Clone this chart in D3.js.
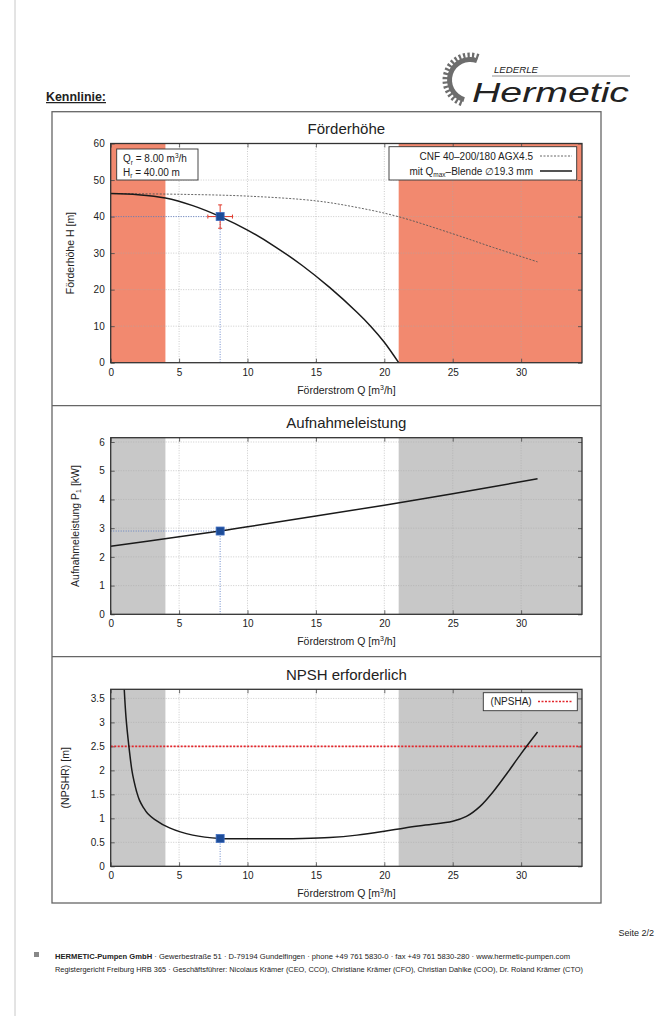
<!DOCTYPE html>
<html lang="de">
<head>
<meta charset="utf-8">
<title>Kennlinie</title>
<script src="https://cdn.jsdelivr.net/npm/d3@7"></script>
<style>
  body { margin: 0; background: #fff; }
  text { font-family: "Liberation Sans", Arial, sans-serif; fill: #222; }
</style>
</head>
<body>
<script>
// ---- data ----
var qTicks = [0, 5, 10, 15, 20, 25, 30];
var headTicks = [0, 10, 20, 30, 40, 50, 60];
var powerTicks = [0, 1, 2, 3, 4, 5, 6];
var npshTicks = [0, 0.5, 1, 1.5, 2, 2.5, 3, 3.5];
var npshTickLabels = ["0", "0.5", "1", "1.5", "2", "2.5", "3", "3.5"];

var qRange = [4, 21.05];            // allowed operating range, outside is shaded
var qMax = 34.45;

// full impeller (dashed) and with Qmax orifice (solid)
var headFull = [[0, 46.3], [5, 46.1], [10, 45.6], [15, 44.3], [18, 42.5], [21, 40.0], [25, 35.3], [28, 31.5], [31.2, 27.6]];
var headOrifice = [[0, 46.3], [2, 46.0], [4, 45.1], [6, 43.0], [8, 40.0], [10, 36.3], [12, 31.8], [14, 26.6], [16, 20.6],
                   [18, 13.8], [19, 10.0], [20, 5.6], [21.05, 0]];
var power = [[0, 2.37], [5, 2.7], [8, 2.9], [10, 3.05], [15, 3.42], [20, 3.8], [25, 4.2], [31.2, 4.72]];
var npshr = [[0.99, 3.69], [1.12, 3.1], [1.33, 2.5], [1.55, 2.0], [1.7, 1.78], [1.9, 1.55], [2.1, 1.38], [2.4, 1.22], [2.7, 1.1],
             [3.2, 0.98], [4.3, 0.8], [6, 0.65], [8, 0.58],
             [10, 0.575], [12, 0.575], [14, 0.58], [16, 0.6], [18, 0.65], [20, 0.73], [21.5, 0.8], [23, 0.86], [25, 0.94],
             [26, 1.04], [27, 1.25], [28, 1.57], [29, 1.95], [30, 2.35], [31.2, 2.8]];
var npsha = 2.5;

var opQ = 8, opH = 40, opP = 2.9, opNpsh = 0.58;
var opErrQ = [7.1, 8.9], opErrH = [36.8, 43.2];

// ---- page ----
var W = 657, H = 1016;
var svg = d3.select("body").append("svg").attr("width", W).attr("height", H);

var X0 = 110.7, X1 = 582;
var x = d3.scaleLinear().domain([0, qMax]).range([X0, X1]);

var box = { left: 52, right: 601, top: 111.7, bottom: 903 };
var dividers = [405.7, 656.7];

// left page rule
svg.append("line").attr("x1", 15).attr("x2", 15).attr("y1", 0).attr("y2", H)
  .attr("stroke", "#c8c8c8").attr("stroke-width", 1);

// heading
svg.append("text").attr("x", 46).attr("y", 101)
  .attr("font-size", 12.5).attr("font-weight", "bold")
  .attr("font-family", "'Liberation Sans Narrow','DejaVu Sans Condensed',sans-serif")
  .attr("text-decoration", "underline")
  .attr("textLength", 60).attr("lengthAdjust", "spacingAndGlyphs")
  .text("Kennlinie:");

// logo
var logo = svg.append("g").attr("fill", "#6d6d6d");
var gc = [470, 80];
logo.append("path").attr("transform", "translate(" + gc + ")")
  .attr("d", d3.arc()({ innerRadius: 18, outerRadius: 23, startAngle: -2.85, endAngle: 0.35 }));
d3.range(-2.8, 0.35, 0.18).forEach(function (a) {
  logo.append("path").attr("transform", "translate(" + gc + ")")
    .attr("d", d3.arc()({ innerRadius: 22, outerRadius: 27.5, startAngle: a, endAngle: a + 0.09 }));
});
logo.append("text").attr("x", 494).attr("y", 73).attr("font-size", 8.5).attr("font-style", "italic")
  .attr("fill", "#555").attr("textLength", 44).attr("lengthAdjust", "spacingAndGlyphs").text("LEDERLE");
logo.append("line").attr("x1", 492).attr("x2", 630).attr("y1", 76).attr("y2", 76)
  .attr("stroke", "#777").attr("stroke-width", 0.8);
logo.append("text").attr("x", 472).attr("y", 102).attr("font-size", 27).attr("font-style", "italic")
  .attr("fill", "#6d6d6d").attr("textLength", 157).attr("lengthAdjust", "spacingAndGlyphs").text("Hermetic");

// outer box and separators
svg.append("rect").attr("x", box.left).attr("y", box.top)
  .attr("width", box.right - box.left).attr("height", box.bottom - box.top)
  .attr("fill", "none").attr("stroke", "#666").attr("stroke-width", 1.3);
dividers.forEach(function (d) {
  svg.append("line").attr("x1", box.left).attr("x2", box.right).attr("y1", d).attr("y2", d)
    .attr("stroke", "#666").attr("stroke-width", 1.3);
});

var line = function (y) {
  return d3.line().x(function (d) { return x(d[0]); }).y(function (d) { return y(d[1]); })
    .curve(d3.curveCatmullRom.alpha(0.5));
};

function xLabel(g, yPos) {
  var t = g.append("text").attr("x", (X0 + X1) / 2).attr("y", yPos).attr("text-anchor", "middle").attr("font-size", 10.5);
  t.append("tspan").text("Förderstrom Q [m");
  t.append("tspan").attr("dy", -4).attr("font-size", 7).text("3");
  t.append("tspan").attr("dy", 4).text("/h]");
}

function panel(o) {
  var y = d3.scaleLinear().domain([0, o.yMax]).range([o.bottom, o.top]);
  var g = svg.append("g");

  g.append("text").attr("x", (X0 + X1) / 2).attr("y", o.top - 9.5).attr("text-anchor", "middle")
    .attr("font-size", 15).text(o.title);

  // shaded areas outside allowed range
  g.append("rect").attr("x", x(0)).attr("y", o.top).attr("width", x(qRange[0]) - x(0))
    .attr("height", o.bottom - o.top).attr("fill", o.shade);
  g.append("rect").attr("x", x(qRange[1])).attr("y", o.top).attr("width", X1 - x(qRange[1]))
    .attr("height", o.bottom - o.top).attr("fill", o.shade);

  // grid
  g.selectAll(".gx").data(qTicks.slice(1)).enter().append("line")
    .attr("x1", function (d) { return x(d); }).attr("x2", function (d) { return x(d); })
    .attr("y1", o.top).attr("y2", o.bottom)
    .attr("stroke", "#aaa").attr("stroke-width", 0.6).attr("stroke-dasharray", "1,1.5");
  g.selectAll(".gy").data(o.ticks.filter(function (d) { return d > 0 && d < o.yMax; })).enter().append("line")
    .attr("x1", X0).attr("x2", X1)
    .attr("y1", function (d) { return y(d); }).attr("y2", function (d) { return y(d); })
    .attr("stroke", "#aaa").attr("stroke-width", 0.6).attr("stroke-dasharray", "1,1.5");

  // axes, ticks pointing inward on all four sides
  g.append("g").attr("transform", "translate(0," + o.bottom + ")")
    .call(d3.axisBottom(x).tickValues(qTicks).tickSize(-4).tickPadding(6));
  g.append("g").attr("transform", "translate(" + X0 + ",0)")
    .call(d3.axisLeft(y).tickValues(o.ticks).tickSize(-4).tickPadding(6)
      .tickFormat(function (d, i) { return o.labels ? o.labels[i] : d; }));
  g.append("g").attr("transform", "translate(0," + o.top + ")")
    .call(d3.axisTop(x).tickValues(qTicks).tickSize(-4).tickFormat(""));
  g.append("g").attr("transform", "translate(" + X1 + ",0)")
    .call(d3.axisRight(y).tickValues(o.ticks).tickSize(-4).tickFormat(""));
  g.selectAll(".domain").remove();
  g.selectAll(".tick line").attr("stroke", "#444").attr("stroke-width", 0.8);
  g.selectAll(".tick text").attr("font-size", 10).attr("fill", "#222")
    .attr("font-family", "'Liberation Sans', Arial, sans-serif");

  xLabel(g, o.bottom + 31);

  // y label
  var yl = g.append("text").attr("transform", "translate(" + o.ylx + "," + ((o.top + o.bottom) / 2) + ") rotate(-90)")
    .attr("text-anchor", "middle").attr("font-size", 10.5);
  o.ylabel(yl);

  return { g: g, y: y, top: o.top, bottom: o.bottom };
}

function frame(p) {
  p.g.append("rect").attr("x", X0).attr("y", p.top).attr("width", X1 - X0).attr("height", p.bottom - p.top)
    .attr("fill", "none").attr("stroke", "#333").attr("stroke-width", 1.3);
}

function opLines(p, q, v, horizontal) {
  p.g.append("line").attr("x1", x(q)).attr("x2", x(q)).attr("y1", p.y(v)).attr("y2", p.bottom)
    .attr("stroke", "#4a6fc0").attr("stroke-width", 0.8).attr("stroke-dasharray", "1,1.5");
  if (horizontal) {
    p.g.append("line").attr("x1", X0).attr("x2", x(q)).attr("y1", p.y(v)).attr("y2", p.y(v))
      .attr("stroke", "#4a6fc0").attr("stroke-width", 0.8).attr("stroke-dasharray", "1,1.5");
  }
}

function opMarker(p, q, v) {
  p.g.append("rect").attr("x", x(q) - 4).attr("y", p.y(v) - 4).attr("width", 8).attr("height", 8)
    .attr("fill", "#1d4c98").attr("stroke", "#3d6cc0").attr("stroke-width", 0.8);
}

// ---- panel 1: head ----
var p1 = panel({
  title: "Förderhöhe", top: 143.5, bottom: 362.7, yMax: 60, ticks: headTicks,
  shade: "#f2896f", ylx: 74,
  ylabel: function (t) { t.text("Förderhöhe H [m]"); }
});
opLines(p1, opQ, opH, true);
p1.g.append("path").datum(headFull).attr("d", line(p1.y)).attr("fill", "none")
  .attr("stroke", "#555").attr("stroke-width", 0.9).attr("stroke-dasharray", "2,1.5");
p1.g.append("path").datum(headOrifice).attr("d", line(p1.y)).attr("fill", "none")
  .attr("stroke", "#1a1a1a").attr("stroke-width", 1.5);

// tolerance cross around the duty point
var red = "#e0392b";
p1.g.append("line").attr("x1", x(opErrQ[0])).attr("x2", x(opErrQ[1])).attr("y1", p1.y(opH)).attr("y2", p1.y(opH))
  .attr("stroke", red).attr("stroke-width", 1);
p1.g.append("line").attr("x1", x(opQ)).attr("x2", x(opQ)).attr("y1", p1.y(opErrH[0])).attr("y2", p1.y(opErrH[1]))
  .attr("stroke", red).attr("stroke-width", 1);
opErrQ.forEach(function (q) {
  p1.g.append("line").attr("x1", x(q)).attr("x2", x(q)).attr("y1", p1.y(opH) - 2).attr("y2", p1.y(opH) + 2)
    .attr("stroke", red).attr("stroke-width", 1);
});
opErrH.forEach(function (h) {
  p1.g.append("line").attr("x1", x(opQ) - 2).attr("x2", x(opQ) + 2).attr("y1", p1.y(h)).attr("y2", p1.y(h))
    .attr("stroke", red).attr("stroke-width", 1);
});
opMarker(p1, opQ, opH);
frame(p1);

// duty point legend
p1.g.append("rect").attr("x", 116.7).attr("y", 149).attr("width", 81.3).attr("height", 31)
  .attr("fill", "#fff").attr("stroke", "#333").attr("stroke-width", 0.9);
var lq = p1.g.append("text").attr("x", 123).attr("y", 162).attr("font-size", 10);
lq.append("tspan").text("Q");
lq.append("tspan").attr("dy", 2.5).attr("font-size", 6.5).text("r");
lq.append("tspan").attr("dy", -2.5).text(" = " + opQ.toFixed(2) + " m");
lq.append("tspan").attr("dy", -4).attr("font-size", 6.5).text("3");
lq.append("tspan").attr("dy", 4).text("/h");
var lh = p1.g.append("text").attr("x", 123).attr("y", 175.5).attr("font-size", 10);
lh.append("tspan").text("H");
lh.append("tspan").attr("dy", 2.5).attr("font-size", 6.5).text("r");
lh.append("tspan").attr("dy", -2.5).text(" = " + opH.toFixed(2) + " m");

// curve legend
p1.g.append("rect").attr("x", 389).attr("y", 146.7).attr("width", 187.7).attr("height", 33.3)
  .attr("fill", "#fff").attr("stroke", "#333").attr("stroke-width", 0.9);
p1.g.append("text").attr("x", 533).attr("y", 159.5).attr("text-anchor", "end").attr("font-size", 10)
  .text("CNF 40–200/180 AGX4.5");
var lo = p1.g.append("text").attr("x", 533).attr("y", 174.5).attr("text-anchor", "end").attr("font-size", 10);
lo.append("tspan").text("mit Q");
lo.append("tspan").attr("dy", 2.5).attr("font-size", 6.5).text("max");
lo.append("tspan").attr("dy", -2.5).text("–Blende ∅19.3 mm");
p1.g.append("line").attr("x1", 540).attr("x2", 572).attr("y1", 156).attr("y2", 156)
  .attr("stroke", "#555").attr("stroke-width", 0.9).attr("stroke-dasharray", "2,1.5");
p1.g.append("line").attr("x1", 540).attr("x2", 572).attr("y1", 171).attr("y2", 171)
  .attr("stroke", "#1a1a1a").attr("stroke-width", 1.5);

// ---- panel 2: power ----
var p2 = panel({
  title: "Aufnahmeleistung", top: 437.7, bottom: 614.3, yMax: 6.15, ticks: powerTicks,
  shade: "#c8c8c8", ylx: 78.5,
  ylabel: function (t) {
    t.append("tspan").text("Aufnahmeleistung P");
    t.append("tspan").attr("dy", 2.5).attr("font-size", 7).text("1");
    t.append("tspan").attr("dy", -2.5).text(" [kW]");
  }
});
opLines(p2, opQ, opP, true);
p2.g.append("path").datum(power).attr("d", line(p2.y)).attr("fill", "none")
  .attr("stroke", "#1a1a1a").attr("stroke-width", 1.5);
opMarker(p2, opQ, opP);
frame(p2);

// ---- panel 3: NPSH ----
var p3 = panel({
  title: "NPSH erforderlich", top: 689.3, bottom: 866.3, yMax: 3.69, ticks: npshTicks, labels: npshTickLabels,
  shade: "#c8c8c8", ylx: 68.5,
  ylabel: function (t) { t.text("(NPSHR) [m]"); }
});
opLines(p3, opQ, opNpsh, false);
p3.g.append("line").attr("x1", X0).attr("x2", X1).attr("y1", p3.y(npsha)).attr("y2", p3.y(npsha))
  .attr("stroke", "#e3262b").attr("stroke-width", 1.8).attr("stroke-dasharray", "2,1.5");
p3.g.append("path").datum(npshr).attr("d", line(p3.y)).attr("fill", "none")
  .attr("stroke", "#1a1a1a").attr("stroke-width", 1.5);
opMarker(p3, opQ, opNpsh);
frame(p3);

p3.g.append("rect").attr("x", 483.3).attr("y", 692.7).attr("width", 94).attr("height", 18)
  .attr("fill", "#fff").attr("stroke", "#333").attr("stroke-width", 0.9);
p3.g.append("text").attr("x", 531.7).attr("y", 705.3).attr("text-anchor", "end").attr("font-size", 10).text("(NPSHA)");
p3.g.append("line").attr("x1", 538).attr("x2", 572).attr("y1", 701.5).attr("y2", 701.5)
  .attr("stroke", "#e3262b").attr("stroke-width", 1.5).attr("stroke-dasharray", "2,1.5");

// ---- footer ----
var narrow = "'Liberation Sans Narrow','DejaVu Sans Condensed',sans-serif";
svg.append("text").attr("x", 654).attr("y", 936).attr("text-anchor", "end").attr("font-size", 9)
  .attr("font-family", narrow).text("Seite 2/2");
svg.append("rect").attr("x", 34).attr("y", 952).attr("width", 5).attr("height", 5).attr("fill", "#888");
var f1 = svg.append("text").attr("x", 55).attr("y", 958.5).attr("font-size", 7.6).attr("font-family", narrow)
  .attr("textLength", 515).attr("lengthAdjust", "spacingAndGlyphs");
f1.append("tspan").attr("font-weight", "bold").text("HERMETIC-Pumpen GmbH");
f1.append("tspan").text(" · Gewerbestraße 51 · D-79194 Gundelfingen · phone +49 761 5830-0 · fax +49 761 5830-280 · www.hermetic-pumpen.com");
svg.append("text").attr("x", 55).attr("y", 971.5).attr("font-size", 7.6).attr("font-family", narrow)
  .attr("textLength", 528).attr("lengthAdjust", "spacingAndGlyphs")
  .text("Registergericht Freiburg HRB 365 · Geschäftsführer: Nicolaus Krämer (CEO, CCO), Christiane Krämer (CFO), Christian Dahlke (COO), Dr. Roland Krämer (CTO)");
</script>
</body>
</html>
